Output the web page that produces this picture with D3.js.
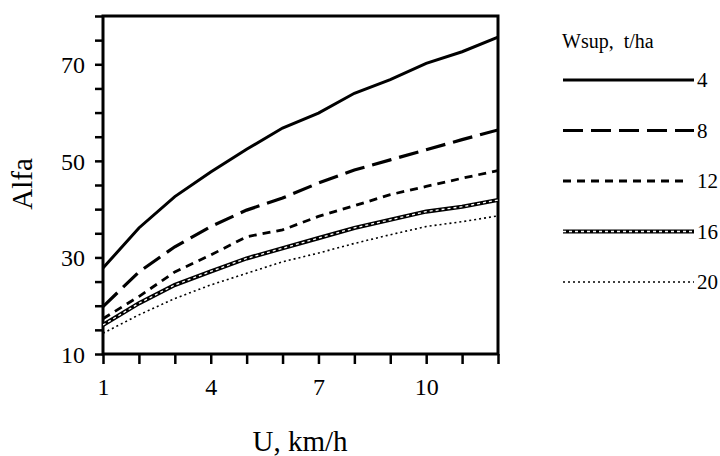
<!DOCTYPE html>
<html><head><meta charset="utf-8">
<script src="https://cdn.jsdelivr.net/npm/d3@7/dist/d3.min.js"></script>
<style>body{margin:0;background:#fff}svg{display:block}text{font-family:"Liberation Serif","Times New Roman",serif;fill:#000}</style>
</head><body><svg id="c" width="720" height="456" font-family="Liberation Serif"></svg>
<script>
const speeds = [1,2,3,4,5,6,7,8,9,10,11,12];
const seriesNames = ["4","8","12","16","20"];
const alfa4  = [27.8,36.1,42.6,47.7,52.4,56.8,59.9,64.0,66.8,70.2,72.6,75.6];
const alfa8  = [19.8,27.0,32.2,36.4,39.8,42.3,45.4,48.1,50.2,52.3,54.4,56.4];
const alfa12 = [17.3,21.9,27.0,30.5,34.3,35.7,38.5,40.7,43.0,44.7,46.4,48.0];
const alfa16 = [16.0,20.5,24.3,27.1,29.8,31.9,34.0,36.1,37.8,39.5,40.5,41.9];
const alfa20 = [14.3,18.1,21.5,24.3,26.7,29.1,30.9,32.9,34.7,36.4,37.4,38.6];
const xTickLabels = [1,4,7,10];
const yTickLabels = [10,30,50,70];
const legendTitle = "Wsup,  t/ha";

const svg = d3.select("#c");
const L=103,R=498,T=16,B=354;
const x = d3.scaleLinear().domain([1,12]).range([L,R]);
const y = d3.scaleLinear().domain([10,80]).range([B,T]);
const FONT = '"Liberation Serif","Times New Roman",serif';

const styles = [
  {w:3, dash:null},
  {w:3.2, dash:"20,8"},
  {w:2.8, dash:"8,6"},
  {w:4.2, dash:null, inner:true},
  {w:1.6, dash:"2,3"}
];
const data = [alfa4,alfa8,alfa12,alfa16,alfa20];

// axes
const yAxis = d3.axisLeft(y).tickValues(d3.range(10,81,5)).tickSize(8).tickPadding(10)
  .tickFormat(d=>yTickLabels.includes(d)?d:"");
const gy = svg.append("g").attr("transform",`translate(${L},0)`).call(yAxis);
const xAxis = d3.axisBottom(x).tickValues(speeds).tickSize(10).tickPadding(14)
  .tickFormat(d=>xTickLabels.includes(d)?d:"");
const gx = svg.append("g").attr("transform",`translate(0,${B})`).call(xAxis);
[gx,gy].forEach(g=>{
  g.attr("font-family",FONT);
  g.select(".domain").remove();
  g.selectAll(".tick line").attr("stroke","#000").attr("stroke-width",2.5);
  g.selectAll(".tick text").style("font-size","24px").style("font-family",FONT).attr("fill","#000");
});
gy.selectAll(".tick text").attr("dy","0.34em");
gx.selectAll(".tick text").attr("dy","0.72em");

// frame
svg.append("rect").attr("x",L).attr("y",T).attr("width",R-L).attr("height",B-T)
  .attr("fill","none").attr("stroke","#000").attr("stroke-width",3);

const line = d3.line().x((d,i)=>x(speeds[i])).y(d=>y(d));
svg.append("clipPath").attr("id","pc").append("rect").attr("x",L).attr("y",T).attr("width",R-L).attr("height",B-T);
const plot = svg.append("g").attr("clip-path","url(#pc)");
data.forEach((s,k)=>{
  const st=styles[k];
  plot.append("path").attr("d",line(s)).attr("fill","none").attr("stroke","#000")
    .attr("stroke-width",st.w).attr("stroke-dasharray",st.dash);
  if(st.inner) plot.append("path").attr("d",line(s)).attr("fill","none").attr("stroke","#fff")
    .attr("stroke-width",1.3).attr("stroke-dasharray","3,3");
});

// axis titles
svg.append("text").attr("x",300).attr("y",451).attr("text-anchor","middle").style("font-family",FONT).style("font-size","29px").text("U, km/h");
svg.append("text").attr("transform","translate(32,184) rotate(-90)").attr("text-anchor","middle").style("font-family",FONT).style("font-size","29px").text("Alfa");

// legend
svg.append("text").attr("x",562).attr("y",48).style("font-family",FONT).style("font-size","20px").style("white-space","pre").text(legendTitle);
const ly = d3.scalePoint().domain(seriesNames).range([80,282]);
seriesNames.forEach((n,k)=>{
  const st=styles[k], yy=ly(n);
  const x2 = n==="12"?684:694;
  svg.append("line").attr("x1",563).attr("x2",x2).attr("y1",yy).attr("y2",yy).attr("stroke","#000")
    .attr("stroke-width",st.w).attr("stroke-dasharray",st.dash);
  if(st.inner) svg.append("line").attr("x1",563).attr("x2",x2).attr("y1",yy).attr("y2",yy).attr("stroke","#fff")
    .attr("stroke-width",1.3).attr("stroke-dasharray","3,3");
  svg.append("text").attr("x",697).attr("y",yy).attr("dy","0.35em").style("font-family",FONT).style("font-size","21px").text(n);
});
</script></body></html>
